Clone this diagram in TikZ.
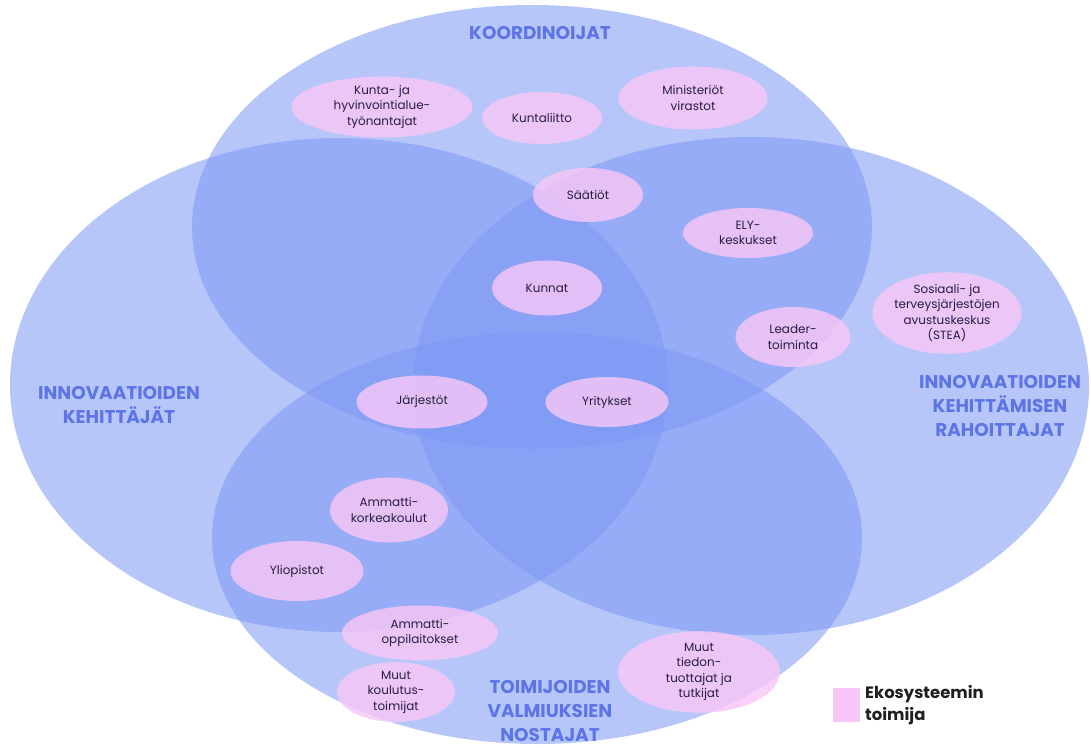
\documentclass[tikz,border=0pt]{standalone}
\usepackage{fontspec}
\setmainfont{Poppins}
\usetikzlibrary{shapes.geometric}
\definecolor{venn}{RGB}{125,152,245}
\definecolor{actor}{RGB}{247,198,247}
\definecolor{ttl}{RGB}{92,116,230}
\definecolor{ink}{RGB}{40,30,60}
\definecolor{legendink}{RGB}{30,30,35}
\tikzset{
  vennset/.style={fill=venn, fill opacity=0.55, draw=none},
  actornode/.style={ellipse, fill=actor, fill opacity=0.82, text opacity=1, text=ink,
    align=center, inner sep=0pt, font=\fontsize{12}{15.5}\selectfont},
  grouptitle/.style={text=ttl, align=center, inner sep=0pt,
    font=\fontsize{18.5}{24}\selectfont\bfseries},
}
\begin{document}
\begin{tikzpicture}[x=1bp,y=-1bp]
\useasboundingbox[fill=white] (0,0) rectangle (1091,748);
% four sets
\fill[vennset] (532,227) ellipse [x radius=340bp, y radius=222bp];
\fill[vennset] (339,385) ellipse [x radius=329bp, y radius=247bp];
\fill[vennset] (751,386) ellipse [x radius=338bp, y radius=249bp];
\fill[vennset] (537,538) ellipse [x radius=325bp, y radius=206bp];
% titles
\node[grouptitle] (tkoord) at (540,33) {KOORDINOIJAT};
\node[grouptitle] (tkeh) at (119,405) {INNOVAATIOIDEN\\KEHITTÄJÄT};
\node[grouptitle] (trah) at (1000,406) {INNOVAATIOIDEN\\KEHITTÄMISEN\\RAHOITTAJAT};
\node[grouptitle] (tnost) at (550,711) {TOIMIJOIDEN\\VALMIUKSIEN\\NOSTAJAT};
% actors
\node[actornode, minimum width=181bp, minimum height=60bp] (kunta) at (382,107) {Kunta- ja\\hyvinvointialue-\\työnantajat};
\node[actornode, minimum width=120bp, minimum height=52bp] (kliitto) at (542,118) {Kuntaliitto};
\node[actornode, minimum width=149bp, minimum height=63bp] (minis) at (693,98) {Ministeriöt\\virastot};
\node[actornode, minimum width=110bp, minimum height=54bp] (saatiot) at (588,195) {Säätiöt};
\node[actornode, minimum width=130bp, minimum height=50bp] (ely) at (748,233) {ELY-\\keskukset};
\node[actornode, minimum width=110bp, minimum height=55bp] (kunnat) at (547,288) {Kunnat};
\node[actornode, minimum width=132bp, minimum height=72bp] (stea) at (947,313) {Sosiaali- ja\\terveysjärjestöjen\\avustuskeskus\\(STEA)};
\node[actornode, minimum width=115bp, minimum height=60bp] (leader) at (793,337) {Leader-\\toiminta};
\node[actornode, minimum width=131bp, minimum height=53bp] (jarj) at (422,402) {Järjestöt};
\node[actornode, minimum width=123bp, minimum height=50bp] (yrit) at (607,402) {Yritykset};
\node[actornode, minimum width=118bp, minimum height=65bp] (amk) at (389,510) {Ammatti-\\korkeakoulut};
\node[actornode, minimum width=133bp, minimum height=60bp] (yliop) at (297,571) {Yliopistot};
\node[actornode, minimum width=156bp, minimum height=55bp] (amol) at (420,633) {Ammatti-\\oppilaitokset};
\node[actornode, minimum width=118bp, minimum height=57bp] (koul) at (396,692) {Muut\\koulutus-\\toimijat};
\node[actornode, minimum width=162bp, minimum height=69bp] (tied) at (699,672) {Muut\\tiedon-\\tuottajat ja\\tutkijat};
% legend
\fill[actor] (833,688) rectangle (860,722);
\node[anchor=west, align=left, inner sep=0pt, text=legendink, font=\fontsize{16.5}{22}\selectfont\bfseries] (legend) at (865,705) {Ekosysteemin\\toimija};
\end{tikzpicture}
\end{document}
